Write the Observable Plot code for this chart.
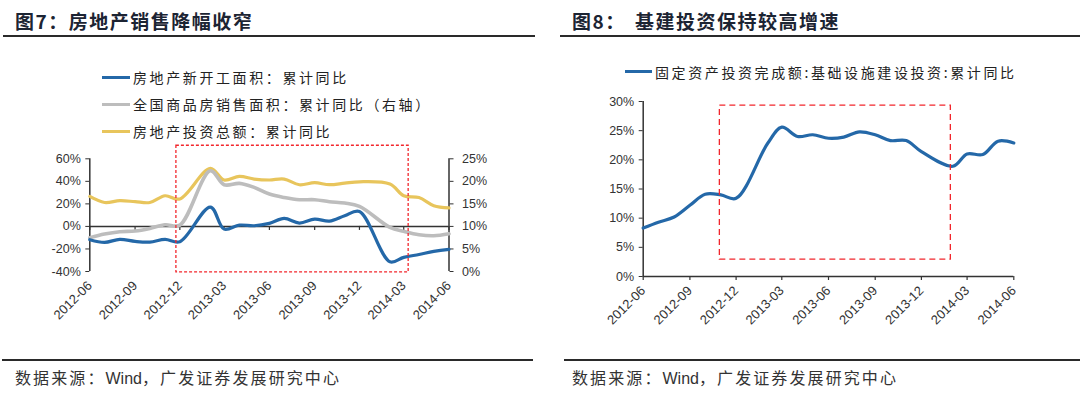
<!DOCTYPE html>
<html><head><meta charset="utf-8">
<script src="https://cdn.jsdelivr.net/npm/d3@7"></script>
<script src="https://cdn.jsdelivr.net/npm/@observablehq/plot@0.6"></script>
<style>
html,body{margin:0;padding:0;background:#fff;}
#page{position:relative;width:1080px;height:399px;overflow:hidden;background:#fff;font-family:"Noto Sans CJK SC","Liberation Sans",sans-serif;color:#222;}
.abs{position:absolute;white-space:nowrap;line-height:1;transform:translateY(-50%);}
.title{font-size:19px;font-weight:bold;color:#1c2433;letter-spacing:1.5px;}
.hr{position:absolute;height:2px;background:#2a2a2a;}
.legend{font-size:14px;letter-spacing:2.6px;color:#222;}
.swatch{position:absolute;height:3px;}
.foot{font-size:16px;letter-spacing:2.1px;color:#333;}
.foot .en{font-family:"Liberation Sans",Arial,sans-serif;letter-spacing:0;}
.chart{position:absolute;}
</style></head><body><div id="page">
<div class="abs title" style="left:15px;top:20px;">图7：房地产销售降幅收窄</div>
<div class="hr" style="left:3px;width:532px;top:35px;"></div>
<div class="abs title" style="left:572px;top:20px;">图8：</div>
<div class="abs title" style="left:635px;top:20px;">基建投资保持较高增速</div>
<div class="hr" style="left:560px;width:520px;top:35px;"></div>

<div id="legendL"></div>
<div id="legendR"></div>

<div id="chartL" class="chart" style="left:0;top:140px;"></div>
<div id="chartR" class="chart" style="left:540px;top:90px;"></div>

<div class="hr" style="left:2px;width:531px;top:359px;"></div>
<div class="hr" style="left:564px;width:516px;top:359px;"></div>
<div class="abs foot" style="left:15px;top:378px;">数据来源：<span class="en">Wind</span>，广发证券发展研究中心</div>
<div class="abs foot" style="left:572px;top:378px;">数据来源：<span class="en">Wind</span>，广发证券发展研究中心</div>
</div>
<script>
// ---- data ----
const months = ["2012-06","2012-07","2012-08","2012-09","2012-10","2012-11","2012-12",
  "2013-02","2013-03","2013-04","2013-05","2013-06","2013-07","2013-08","2013-09","2013-10","2013-11","2013-12",
  "2014-02","2014-03","2014-04","2014-05","2014-06"];
// 房地产新开工面积：累计同比 (left axis, %)
const newStarts = [-11.8,-14.2,-11.5,-13.3,-13.9,-11.5,-13.6,
  17.2,-2.4,1.2,0.6,2.7,7.1,3.0,6.5,4.7,9.5,13.3,
  -31.4,-27.5,-24.9,-22.2,-20.4];
// 全国商品房销售面积：累计同比 (%)
const salesArea = [-10.0,-6.8,-4.7,-4.1,-1.8,1.5,1.2,
  49.4,37.0,38.2,34.6,28.7,25.7,23.7,23.7,21.9,20.7,17.8,
  -0.9,-4.4,-7.4,-8.3,-6.5];
// 房地产投资总额：累计同比 (right axis, %)
const reInvest = [16.65,15.3,15.7,15.5,15.3,16.8,16.1,
  22.9,20.3,21.1,20.5,20.3,20.5,19.25,19.7,19.25,19.6,19.9,
  19.4,16.8,16.4,14.6,14.1];
// 固定资产投资完成额:基础设施建设投资:累计同比 (%)
const infraInvest = [8.3,9.3,10.2,12.2,14.1,14.0,13.4,
  22.8,25.6,24.0,24.3,23.7,23.9,24.8,24.3,23.3,23.3,21.4,
  18.9,21.0,20.9,23.2,22.9];

const xTickLabels = ["2012-06","2012-09","2012-12","2013-03","2013-06","2013-09","2013-12","2014-03","2014-06"];
const leftTicks = [-40,-20,0,20,40,60];
const rightTicksPct = [0,5,10,15,20,25];
const infraTicks = [0,5,10,15,20,25,30];

const legendLeftItems = ["房地产新开工面积：累计同比","全国商品房销售面积：累计同比（右轴）","房地产投资总额：累计同比"];
const legendRightItems = ["固定资产投资完成额:基础设施建设投资:累计同比"];
const colors = {blue:"#2468a8", gray:"#bdbdbd", yellow:"#e8c55c", red:"#f2262c"};

// highlighted periods (dashed boxes)
const boxLeft = {x1:"2012-11-24", x2:"2014-03-11", y1:71.6, y2:-40.8};
const boxRight = {x1:"2012-10-30", x2:"2014-01-28", y1:29.3, y2:2.9};

// ---- build ----
const P = d3.utcParse("%Y-%m");
const D = d3.utcParse("%Y-%m-%d");
const fmtX = d3.utcFormat("%Y-%m");
const xTicks = xTickLabels.map(P);
const xDomain = [xTicks[0], xTicks[xTicks.length-1]];
const rows = months.map((m,i)=>({date:P(m), newStarts:newStarts[i], salesArea:salesArea[i], reInvest:reInvest[i], infra:infraInvest[i]}));
const toLeft = r => 4*r - 40;

const style = {fontFamily:'"Liberation Sans", Arial, sans-serif', fontSize:"12px", color:"#333", background:"transparent", overflow:"visible"};
const FS = 12.5;
const FSX = 13;

const left = Plot.plot({
  width:540, height:200, marginTop:18.3, marginBottom:69, marginLeft:89.3, marginRight:91.5,
  style,
  x:{type:"utc", domain:xDomain},
  y:{domain:[-40,60]},
  marks:[
    Plot.axisY(leftTicks, {anchor:"left", tickSize:4, tickPadding:5, fontSize:FS, tickFormat:d=>d+"%"}),
    Plot.axisY(rightTicksPct.map(toLeft), {anchor:"right", tickSize:4, tickPadding:9, fontSize:FS, tickFormat:d=>((d+40)/4)+"%"}),
    Plot.axisX(xTicks, {anchor:"bottom", tickSize:0, tickPadding:12, tickRotate:-45, fontSize:FSX, tickFormat:fmtX}),
    Plot.ruleX([xDomain[0]], {stroke:"#333", strokeWidth:1.5}),
    Plot.ruleX([xDomain[1]], {stroke:"#333", strokeWidth:1.5}),
    Plot.ruleY([0], {stroke:"#333", strokeWidth:1.5}),
    Plot.ruleX(xTicks, {x:d=>d, y1:0, y2:0, insetBottom:-4, stroke:"#333", strokeWidth:1.2}),
    Plot.line(rows, {x:"date", y:d=>toLeft(d.reInvest), stroke:colors.yellow, strokeWidth:3.2, curve:"catmull-rom"}),
    Plot.line(rows, {x:"date", y:"salesArea", stroke:colors.gray, strokeWidth:3.6, curve:"catmull-rom"}),
    Plot.line(rows, {x:"date", y:"newStarts", stroke:colors.blue, strokeWidth:3.2, curve:"catmull-rom"}),
    Plot.rect([boxLeft], {x1:d=>D(d.x1), x2:d=>D(d.x2), y1:"y1", y2:"y2", fill:"none", stroke:colors.red, strokeWidth:1.3, strokeDasharray:"3,2"})
  ]
});
document.getElementById("chartL").appendChild(left);

const right = Plot.plot({
  width:540, height:250, marginTop:11, marginBottom:64, marginLeft:102.7, marginRight:66.7,
  style,
  x:{type:"utc", domain:xDomain},
  y:{domain:[0,30]},
  marks:[
    Plot.axisY(infraTicks, {anchor:"left", tickSize:4, tickPadding:5, fontSize:FS, tickFormat:d=>d+"%"}),
    Plot.axisX(xTicks, {anchor:"bottom", tickSize:0, tickPadding:12, tickRotate:-45, fontSize:FSX, tickFormat:fmtX}),
    Plot.ruleX([xDomain[0]], {stroke:"#333", strokeWidth:1.5}),
    Plot.ruleY([0], {stroke:"#333", strokeWidth:1.5}),
    Plot.ruleX(xTicks, {x:d=>d, y1:0, y2:0, insetBottom:-4, stroke:"#333", strokeWidth:1.2}),
    Plot.line(rows, {x:"date", y:"infra", stroke:colors.blue, strokeWidth:3.2, curve:"catmull-rom"}),
    Plot.rect([boxRight], {x1:d=>D(d.x1), x2:d=>D(d.x2), y1:"y1", y2:"y2", fill:"none", stroke:colors.red, strokeWidth:1.3, strokeDasharray:"6,4"})
  ]
});
document.getElementById("chartR").appendChild(right);

// legends
function legendItem(container, text, color, x, y, sw){
  const s = document.createElement("div");
  s.className = "swatch";
  s.style.cssText = `left:${x}px;top:${y-1.5}px;width:${sw}px;background:${color};`;
  container.appendChild(s);
  const t = document.createElement("div");
  t.className = "abs legend";
  t.style.cssText = `left:${x+sw+3}px;top:${y}px;`;
  t.textContent = text;
  container.appendChild(t);
}
const LL = document.getElementById("legendL");
const lcols = [colors.blue, colors.gray, colors.yellow];
const ly = [77.3, 104.3, 131];
legendLeftItems.forEach((t,i)=>legendItem(LL, t, lcols[i], 102, ly[i], 28));
const LR = document.getElementById("legendR");
legendRightItems.forEach((t,i)=>legendItem(LR, t, colors.blue, 625, 71.7, 27));
</script>
</body></html>
